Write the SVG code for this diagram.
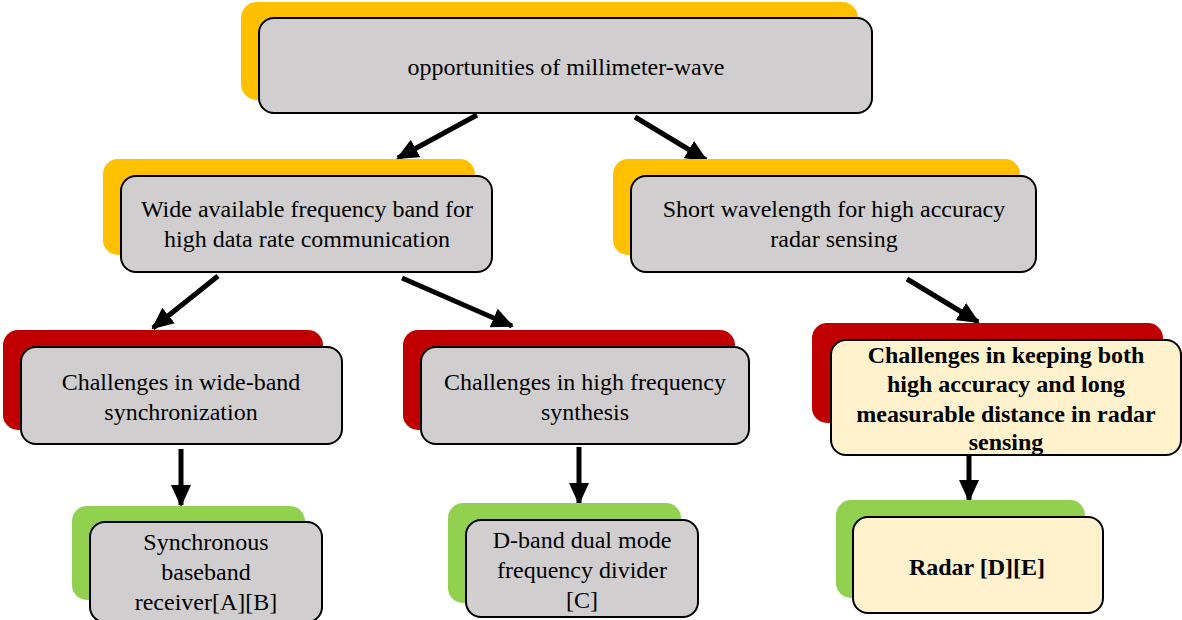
<svg xmlns="http://www.w3.org/2000/svg" width="1182" height="620" viewBox="0 0 1182 620">
<defs>
<marker id="ah" markerUnits="userSpaceOnUse" markerWidth="22" markerHeight="22" viewBox="0 0 22 22" refX="20" refY="11" orient="auto">
<path d="M0,1 L22,11 L0,21 Z" fill="#000"/>
</marker>
</defs>
<rect width="1182" height="620" fill="#fff"/>
<g id="connectors" stroke="#000" stroke-width="5" fill="none" marker-end="url(#ah)">
<line x1="477" y1="115" x2="398" y2="158"/>
<line x1="635" y1="117" x2="706" y2="160"/>
<line x1="218" y1="276" x2="153" y2="328"/>
<line x1="402" y1="278" x2="512" y2="326"/>
<line x1="907" y1="279" x2="978" y2="322"/>
<line x1="181" y1="449" x2="181" y2="505"/>
<line x1="579" y1="447" x2="579" y2="503"/>
<line x1="969" y1="456" x2="969" y2="500"/>
</g>
<g id="n-top">
<rect fill="#FFC000" x="241" y="2" width="617" height="98" rx="16"/>
<rect fill="#D0CECE" stroke="#000" stroke-width="2" x="259" y="18" width="613" height="95" rx="15"/>
<text style="font-family:'Liberation Serif'" font-size="24" text-anchor="middle" x="566" y="75">opportunities of millimeter-wave</text>
</g>
<g id="n-wide">
<rect fill="#FFC000" x="103" y="159" width="372" height="96" rx="15"/>
<rect fill="#D0CECE" stroke="#000" stroke-width="2" x="121" y="176" width="371" height="96" rx="15"/>
<text style="font-family:'Liberation Serif'" font-size="24" text-anchor="middle" x="307" y="217">Wide available frequency band for</text>
<text style="font-family:'Liberation Serif'" font-size="24" text-anchor="middle" x="307" y="247">high data rate communication</text>
</g>
<g id="n-short">
<rect fill="#FFC000" x="613" y="159" width="407" height="96" rx="15"/>
<rect fill="#D0CECE" stroke="#000" stroke-width="2" x="631" y="176" width="405" height="96" rx="15"/>
<text style="font-family:'Liberation Serif'" font-size="24" text-anchor="middle" x="834" y="217">Short wavelength for high accuracy</text>
<text style="font-family:'Liberation Serif'" font-size="24" text-anchor="middle" x="834" y="247">radar sensing</text>
</g>
<g id="n-sync">
<rect fill="#C00000" x="3" y="330" width="320" height="100" rx="15"/>
<rect fill="#D0CECE" stroke="#000" stroke-width="2" x="21" y="347" width="321" height="97" rx="15"/>
<text style="font-family:'Liberation Serif'" font-size="24" text-anchor="middle" x="181" y="390">Challenges in wide-band</text>
<text style="font-family:'Liberation Serif'" font-size="24" text-anchor="middle" x="181" y="420">synchronization</text>
</g>
<g id="n-synth">
<rect fill="#C00000" x="403" y="330" width="332" height="100" rx="15"/>
<rect fill="#D0CECE" stroke="#000" stroke-width="2" x="421" y="347" width="328" height="97" rx="15"/>
<text style="font-family:'Liberation Serif'" font-size="24" text-anchor="middle" x="585" y="390">Challenges in high frequency</text>
<text style="font-family:'Liberation Serif'" font-size="24" text-anchor="middle" x="585" y="420">synthesis</text>
</g>
<g id="n-radar-ch">
<rect fill="#C00000" x="812" y="323" width="351" height="100" rx="15"/>
<rect fill="#FFF2CC" stroke="#000" stroke-width="2" x="831" y="340" width="350" height="115" rx="15"/>
<text style="font-family:'Liberation Serif'" font-weight="bold" font-size="24" text-anchor="middle" x="1006" y="363">Challenges in keeping both</text>
<text style="font-family:'Liberation Serif'" font-weight="bold" font-size="24" text-anchor="middle" x="1006" y="392">high accuracy and long</text>
<text style="font-family:'Liberation Serif'" font-weight="bold" font-size="24" text-anchor="middle" x="1006" y="422">measurable distance in radar</text>
<text style="font-family:'Liberation Serif'" font-weight="bold" font-size="24" text-anchor="middle" x="1006" y="450">sensing</text>
</g>
<g id="n-receiver">
<rect fill="#92D050" x="72" y="506" width="233" height="94" rx="15"/>
<rect fill="#D0CECE" stroke="#000" stroke-width="2" x="90" y="522" width="232" height="100" rx="15"/>
<text style="font-family:'Liberation Serif'" font-size="24" text-anchor="middle" x="206" y="550">Synchronous</text>
<text style="font-family:'Liberation Serif'" font-size="24" text-anchor="middle" x="206" y="580">baseband</text>
<text style="font-family:'Liberation Serif'" font-size="24" text-anchor="middle" x="206" y="610">receiver[A][B]</text>
</g>
<g id="n-divider">
<rect fill="#92D050" x="448" y="503" width="233" height="100" rx="15"/>
<rect fill="#D0CECE" stroke="#000" stroke-width="2" x="466" y="520" width="232" height="97" rx="15"/>
<text style="font-family:'Liberation Serif'" font-size="24" text-anchor="middle" x="582" y="548">D-band dual mode</text>
<text style="font-family:'Liberation Serif'" font-size="24" text-anchor="middle" x="582" y="578">frequency divider</text>
<text style="font-family:'Liberation Serif'" font-size="24" text-anchor="middle" x="582" y="608">[C]</text>
</g>
<g id="n-radar">
<rect fill="#92D050" x="836" y="500" width="249" height="98" rx="15"/>
<rect fill="#FFF2CC" stroke="#000" stroke-width="2" x="853" y="517" width="250" height="96" rx="15"/>
<text style="font-family:'Liberation Serif'" font-weight="bold" font-size="24" text-anchor="middle" x="977" y="575">Radar [D][E]</text>
</g>
</svg>
